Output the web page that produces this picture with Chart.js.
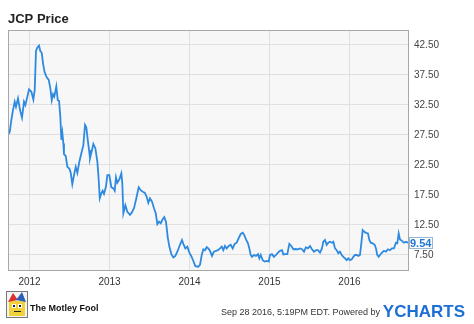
<!DOCTYPE html>
<html>
<head>
<meta charset="utf-8">
<script src="https://cdn.jsdelivr.net/npm/chart.js@4.4.1/dist/chart.umd.min.js"></script>
<style>
  html, body { margin: 0; padding: 0; background: #fff; }
  #wrap { width: 474px; height: 324px; }
</style>
</head>
<body>
<div id="wrap"><canvas id="chart" width="474" height="324"></canvas></div>
<script>
// JCP share price (x = decimal year)
const chartTitle = 'JCP Price';
const yearTicks = [2012, 2013, 2014, 2015, 2016];
const priceTicks = [7.5, 12.5, 17.5, 22.5, 27.5, 32.5, 37.5, 42.5];
const lastPrice = 9.54;

const priceDates = [
  2011.731, 2011.753, 2011.773, 2011.794, 2011.815, 2011.831, 2011.856, 2011.881, 2011.906, 2011.931,
  2011.948, 2011.973, 2011.994, 2012.023, 2012.048, 2012.065, 2012.081, 2012.098, 2012.119, 2012.135,
  2012.153, 2012.169, 2012.190, 2012.215, 2012.240, 2012.260, 2012.278, 2012.294, 2012.310, 2012.335,
  2012.353, 2012.369, 2012.385, 2012.398, 2012.410, 2012.423, 2012.431, 2012.453, 2012.473, 2012.498,
  2012.515, 2012.535, 2012.556, 2012.578, 2012.598, 2012.623, 2012.648, 2012.673, 2012.694, 2012.710,
  2012.728, 2012.744, 2012.756, 2012.773, 2012.798, 2012.823, 2012.848, 2012.865, 2012.878, 2012.898,
  2012.915, 2012.931, 2012.956, 2012.973, 2012.998, 2013.023, 2013.048, 2013.065, 2013.081, 2013.098,
  2013.123, 2013.148, 2013.160, 2013.173, 2013.198, 2013.223, 2013.256, 2013.278, 2013.306, 2013.331,
  2013.365, 2013.390, 2013.415, 2013.440, 2013.465, 2013.485, 2013.506, 2013.531, 2013.556, 2013.578,
  2013.598, 2013.619, 2013.640, 2013.665, 2013.685, 2013.706, 2013.728, 2013.748, 2013.773, 2013.798,
  2013.823, 2013.848, 2013.881, 2013.906, 2013.923, 2013.948, 2013.973, 2013.998, 2014.023, 2014.048,
  2014.073, 2014.110, 2014.131, 2014.153, 2014.173, 2014.194, 2014.215, 2014.235, 2014.256, 2014.281,
  2014.306, 2014.331, 2014.356, 2014.381, 2014.403, 2014.423, 2014.444, 2014.465, 2014.490, 2014.515,
  2014.540, 2014.565, 2014.590, 2014.615, 2014.640, 2014.665, 2014.685, 2014.706, 2014.731, 2014.748,
  2014.765, 2014.781, 2014.806, 2014.831, 2014.856, 2014.873, 2014.890, 2014.915, 2014.940, 2014.965,
  2014.990, 2015.006, 2015.031, 2015.056, 2015.081, 2015.106, 2015.131, 2015.156, 2015.173, 2015.198,
  2015.223, 2015.248, 2015.273, 2015.298, 2015.323, 2015.356, 2015.381, 2015.406, 2015.431, 2015.456,
  2015.481, 2015.506, 2015.531, 2015.556, 2015.581, 2015.606, 2015.631, 2015.656, 2015.673, 2015.694,
  2015.715, 2015.735, 2015.756, 2015.781, 2015.798, 2015.819, 2015.840, 2015.860, 2015.881, 2015.903,
  2015.923, 2015.944, 2015.965, 2015.985, 2016.006, 2016.028, 2016.048, 2016.069, 2016.090, 2016.110,
  2016.131, 2016.148, 2016.165, 2016.181, 2016.206, 2016.231, 2016.248, 2016.265, 2016.290, 2016.315,
  2016.331, 2016.348, 2016.365, 2016.381, 2016.406, 2016.431, 2016.456, 2016.481, 2016.506, 2016.531,
  2016.556, 2016.581, 2016.598, 2016.615, 2016.631, 2016.656, 2016.681, 2016.706, 2016.735
];

const prices = [
  27.5, 28.05, 30.0, 31.7, 33.05, 32.2, 33.6, 31.7, 30.4, 33.05,
  32.5, 33.9, 35.1, 34.7, 33.4, 35.0, 41.5, 42.1, 42.4, 41.5,
  41.2, 39.4, 37.9, 37.1, 36.7, 35.3, 33.3, 34.3, 33.9, 35.6,
  33.3, 33.2, 30.6, 26.7, 27.9, 26.1, 24.3, 24.0, 22.2, 21.9,
  21.2, 19.3, 20.8, 22.2, 21.2, 23.05, 24.45, 25.8, 29.2, 28.8,
  26.7, 25.0, 23.6, 24.55, 26.0, 25.3, 23.05, 20.0, 16.95, 17.8,
  18.2, 17.7, 18.9, 20.8, 20.8, 18.8, 18.6, 18.2, 20.45, 19.55,
  20.1, 21.1, 19.45, 14.45, 15.8, 14.7, 14.2, 14.55, 15.3, 16.7,
  18.8, 18.3, 18.05, 17.9, 17.2, 16.2, 16.95, 16.4, 15.3, 14.45,
  12.65, 13.05, 12.8, 13.45, 13.8, 13.05, 10.45, 8.9, 7.65, 7.1,
  7.35, 8.05, 9.2, 10.0, 9.35, 8.6, 8.9, 7.9, 7.3, 6.5,
  5.65, 5.55, 5.85, 7.5, 8.45, 8.3, 8.8, 8.6, 8.2, 7.35,
  8.05, 8.2, 8.3, 8.6, 8.9, 8.3, 9.0, 8.6, 9.0, 9.2,
  8.6, 9.35, 9.55, 10.3, 11.0, 11.2, 10.8, 10.1, 9.45, 8.6,
  7.5, 7.2, 7.5, 7.35, 7.65, 6.95, 7.5, 6.65, 6.4, 6.5,
  6.4, 7.5, 7.65, 7.2, 7.5, 7.9, 8.2, 8.3, 7.6, 7.65,
  7.65, 9.35, 9.0, 8.45, 8.5, 8.45, 8.6, 8.45, 8.05, 8.8,
  8.6, 9.0, 8.45, 8.05, 8.3, 8.3, 7.9, 8.6, 9.7, 10.0,
  9.2, 9.55, 9.7, 9.55, 9.7, 8.6, 8.3, 7.8, 8.05, 7.5,
  7.2, 6.95, 6.65, 6.95, 6.65, 6.8, 7.2, 7.5, 7.5, 7.35,
  7.5, 9.45, 11.65, 11.4, 11.2, 11.1, 10.0, 9.55, 9.45, 9.2,
  8.6, 7.5, 7.2, 7.5, 7.9, 8.2, 8.05, 8.45, 8.3, 8.6,
  8.6, 9.55, 9.45, 11.1, 10.1, 9.85, 9.55, 9.7, 9.54
];

const lineColor = '#2e8ae0';
const font = '"Liberation Sans", Arial, sans-serif';

// Motley Fool jester badge, roughly
function drawLogo(ctx, x, y) {
  ctx.fillStyle = '#f4f4f4';
  ctx.fillRect(x, y, 22, 27);
  ctx.fillStyle = '#f2d23a';
  ctx.fillRect(x + 3, y + 10, 16, 15);
  ctx.fillStyle = '#d8322a';
  ctx.beginPath();
  ctx.moveTo(x + 2, y + 11); ctx.lineTo(x + 7, y + 2); ctx.lineTo(x + 12, y + 9); ctx.closePath();
  ctx.fill();
  ctx.fillStyle = '#2c5fb8';
  ctx.beginPath();
  ctx.moveTo(x + 10, y + 9); ctx.lineTo(x + 16, y + 1); ctx.lineTo(x + 20, y + 11); ctx.closePath();
  ctx.fill();
  ctx.fillStyle = '#fff';
  ctx.fillRect(x + 6, y + 13, 4, 4);
  ctx.fillRect(x + 12, y + 13, 4, 4);
  ctx.fillStyle = '#222';
  ctx.fillRect(x + 7, y + 14, 2, 2);
  ctx.fillRect(x + 13, y + 14, 2, 2);
  ctx.fillRect(x + 8, y + 20, 7, 1);
  ctx.strokeStyle = '#777';
  ctx.lineWidth = 1;
  ctx.strokeRect(x + 0.5, y + 0.5, 21, 26);
}

const framePlugin = {
  id: 'frame',
  beforeDraw(chart) {
    const { ctx, chartArea: a } = chart;
    ctx.save();
    ctx.fillStyle = '#f7f7f7';
    ctx.fillRect(a.left, a.top, a.right - a.left, a.bottom - a.top);
    ctx.restore();
  },
  afterDraw(chart) {
    const { ctx, chartArea: a, scales } = chart;
    ctx.save();
    ctx.strokeStyle = '#a8a8a8';
    ctx.lineWidth = 1;
    ctx.strokeRect(a.left + 0.5, a.top + 0.5, a.right - a.left - 1, a.bottom - a.top - 1);

    // title
    ctx.fillStyle = '#222';
    ctx.font = 'bold 13px ' + font;
    ctx.textAlign = 'left';
    ctx.textBaseline = 'alphabetic';
    ctx.fillText(chartTitle, 8, 23);

    // last value tag
    const ty = Math.round(scales.y.getPixelForValue(lastPrice));
    ctx.fillStyle = '#fff';
    ctx.fillRect(409, ty - 6, 24, 12);
    ctx.strokeStyle = '#9ab6d6';
    ctx.strokeRect(409.5, ty - 5.5, 23, 11);
    ctx.fillStyle = '#1f74d6';
    ctx.font = 'bold 11px ' + font;
    ctx.textBaseline = 'middle';
    ctx.fillText(lastPrice.toFixed(2), 410, ty + 0.5);

    // footer
    drawLogo(ctx, 6, 291);
    ctx.fillStyle = '#111';
    ctx.font = 'bold 9px ' + font;
    ctx.textBaseline = 'alphabetic';
    ctx.fillText('The Motley Fool', 30, 311);

    ctx.textAlign = 'right';
    ctx.fillStyle = '#333';
    ctx.font = '9px ' + font;
    ctx.fillText('Sep 28 2016, 5:19PM EDT. Powered by', 380, 315);
    ctx.fillStyle = '#1c6fd4';
    ctx.font = 'bold 17px ' + font;
    ctx.fillText('YCHARTS', 465, 317);
    ctx.restore();
  }
};

const points = priceDates.map((d, i) => ({ x: d, y: prices[i] }));

new Chart(document.getElementById('chart'), {
  type: 'line',
  data: {
    datasets: [{
      label: chartTitle,
      data: points,
      borderColor: lineColor,
      borderWidth: 1.8,
      pointRadius: 0,
      tension: 0,
      fill: false
    }]
  },
  options: {
    responsive: false,
    animation: false,
    layout: { padding: { top: 30, bottom: 31, left: 8, right: 0 } },
    plugins: { legend: { display: false }, tooltip: { enabled: false } },
    scales: {
      x: {
        type: 'linear',
        min: 2011.731,
        max: 2016.744,
        afterBuildTicks: s => { s.ticks = yearTicks.map(v => ({ value: v })); },
        afterFit: s => { s.height = 22; },
        grid: { color: '#e0e0e0', drawTicks: false },
        border: { display: false },
        ticks: {
          padding: 5,
          color: '#333',
          font: { family: font, size: 10 },
          callback: v => String(v)
        }
      },
      y: {
        position: 'right',
        min: 4.833,
        max: 45,
        afterBuildTicks: s => { s.ticks = priceTicks.map(v => ({ value: v })); },
        afterFit: s => { s.width = 65; },
        grid: { color: '#e0e0e0', drawTicks: false },
        border: { display: false },
        ticks: {
          padding: 5,
          color: '#444',
          font: { family: font, size: 10 },
          callback: v => v.toFixed(2)
        }
      }
    }
  },
  plugins: [framePlugin]
});
</script>
</body>
</html>
